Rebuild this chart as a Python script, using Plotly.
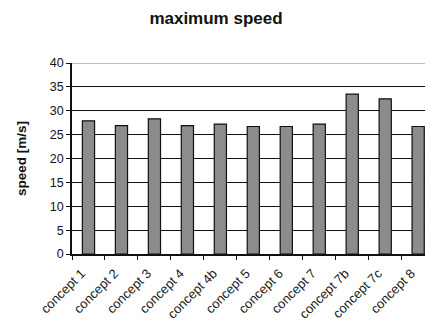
import plotly.graph_objects as go

categories = ["concept 1", "concept 2", "concept 3", "concept 4", "concept 4b", "concept 5",
              "concept 6", "concept 7", "concept 7b", "concept 7c", "concept 8"]
max_speed = [27.9, 26.9, 28.3, 26.9, 27.2, 26.7, 26.7, 27.2, 33.5, 32.5, 26.7]
y_ticks = [0, 5, 10, 15, 20, 25, 30, 35, 40]

# page body adds an 8px offset; compensate so the plot lands where the reference has it
OFF = 8
W, H = 433 - OFF, 322 - OFF

fig = go.Figure(go.Bar(
    x=categories, y=max_speed,
    marker=dict(color="#8c8c8c", line=dict(color="#111111", width=1.2)),
    width=0.37,
))

fig.update_layout(
    width=W, height=H,
    margin=dict(l=72 - OFF, r=0, t=63 - OFF, b=322 - 254, autoexpand=False),
    paper_bgcolor="white", plot_bgcolor="white",
    showlegend=False,
    title=dict(text="<b>maximum speed</b>", x=(216 - OFF) / W, xref="container", xanchor="center",
               y=1 - (18 - OFF) / H, yref="container", yanchor="middle",
               font=dict(family="Liberation Sans, Arial", size=17, color="#111111")),
    font=dict(family="Liberation Sans, Arial", color="#111111"),
)

fig.update_xaxes(
    type="category", range=[-0.5, 10.45],
    showline=True, linecolor="#111111", linewidth=1.5,
    ticks="outside", tickson="boundaries", ticklen=4, tickcolor="#111111", tickwidth=1.2,
    tickangle=-45, tickfont=dict(size=13, color="#222222"),
    ticklabelshift=-7, ticklabelstandoff=5,
    showgrid=False,
)
fig.update_yaxes(
    range=[0, 40], tickvals=y_ticks,
    showline=True, linecolor="#111111", linewidth=1.5,
    ticks="outside", ticklen=4, tickcolor="#111111", tickwidth=1.2,
    tickfont=dict(size=12.5, color="#111111"),
    showgrid=True, gridcolor="#111111", gridwidth=1.2,
    zeroline=False,
    title=dict(text="<b>speed [m/s]</b>", font=dict(size=13.5, color="#111111"), standoff=20),
)

fig.add_shape(type="line", xref="paper", yref="y", x0=0, x1=1, y0=40, y1=40,
              line=dict(color="#a8a8a8", width=1.5), layer="above")

fig.write_html("out.html")
